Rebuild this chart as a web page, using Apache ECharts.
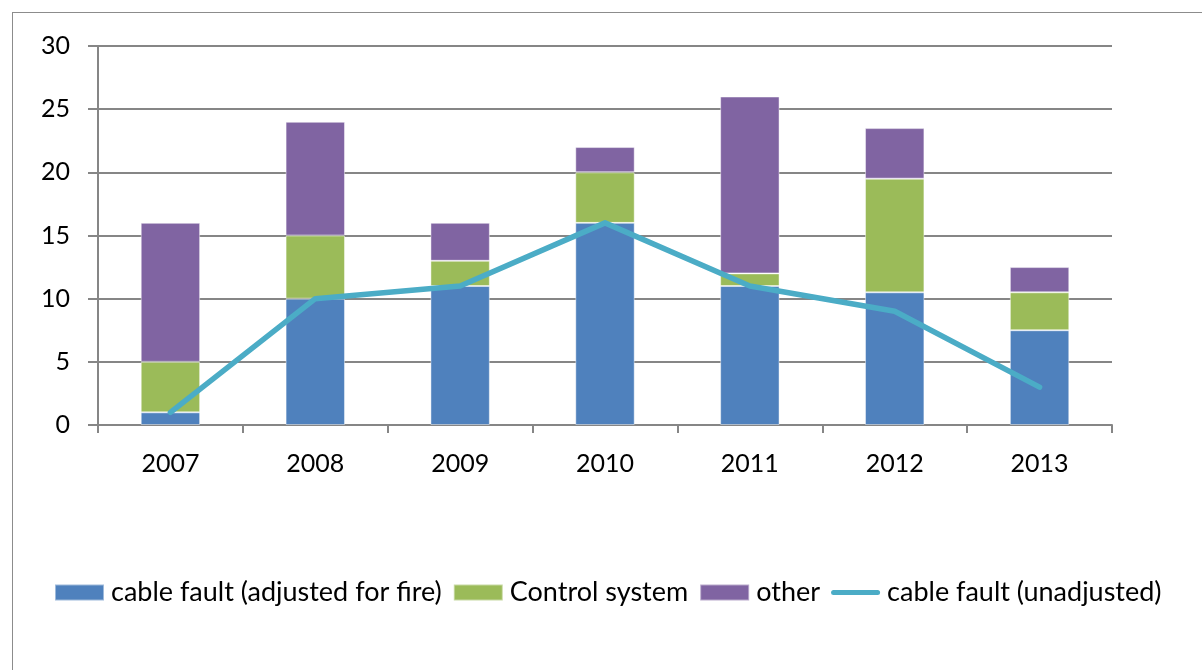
<!DOCTYPE html>
<html>
<head>
<meta charset="utf-8">
<script src="https://cdn.jsdelivr.net/npm/echarts@6/dist/echarts.min.js"></script>
<style>
  html, body { margin: 0; padding: 0; background: #fff; overflow: hidden; }
  #frame { position: absolute; left: 12px; top: 12px; width: 1400px; height: 900px;
           border: 1px solid #8c8c8c; box-sizing: border-box; }
  #chart { position: absolute; left: 0; top: 0; width: 1202px; height: 670px; }
</style>
</head>
<body>
<div id="frame"></div>
<div id="chart"></div>
<script>
// Fault counts per year
const years = ['2007', '2008', '2009', '2010', '2011', '2012', '2013'];
const cableAdjusted = [1, 10, 11, 16, 11, 10.5, 7.5];
const controlSystem = [4, 5, 2, 4, 1, 9, 3];
const otherFaults = [11, 9, 3, 2, 14, 4, 2];
const cableUnadjusted = [1, 10, 11, 16, 11, 9, 3];
const yTicks = { min: 0, max: 30, interval: 5 };

const FONT = 'Lato';
const LINE_COLOR = '#4BACC6';
// Legend glyph for the line series: a rounded stroke centred in a 49x16 box
const LINE_ICON = 'path://M0,0 M49,16 M2.5,5.5 L46.5,5.5 A2.5,2.5 0 0 1 46.5,10.5 L2.5,10.5 A2.5,2.5 0 0 1 2.5,5.5 Z';
const chart = echarts.init(document.getElementById('chart'), null, { renderer: 'canvas' });

const barBase = {
  type: 'bar',
  stack: 'total',
  barWidth: '41%',
  itemStyle: { borderColor: 'rgba(255,255,255,0.45)', borderWidth: 1 }
};

chart.setOption({
  animation: false,
  backgroundColor: 'transparent',
  grid: { left: 98, right: 90, top: 46, bottom: 245, containLabel: false },
  legend: {
    left: 54,
    top: 579,
    padding: 0,
    itemWidth: 49,
    itemHeight: 16,
    itemGap: 11,
    textStyle: { fontFamily: FONT, fontSize: 27, color: '#000', padding: [0, 0, 0, 2] },
    data: [
      { name: 'cable fault (adjusted for fire)', icon: 'rect' },
      { name: 'Control system', icon: 'rect' },
      { name: 'other', icon: 'rect' },
      { name: 'cable fault (unadjusted)', icon: LINE_ICON }
    ]
  },
  xAxis: {
    type: 'category',
    data: years,
    axisLine: { lineStyle: { color: '#868686', width: 2 } },
    axisTick: { show: true, length: 8, lineStyle: { color: '#868686', width: 2 } },
    axisLabel: { fontFamily: FONT, fontSize: 25, color: '#000', margin: 26 }
  },
  yAxis: {
    type: 'value',
    min: yTicks.min,
    max: yTicks.max,
    interval: yTicks.interval,
    axisLine: { show: true, lineStyle: { color: '#868686', width: 2 } },
    axisTick: { show: true, length: 10, lineStyle: { color: '#868686', width: 2 } },
    axisLabel: { fontFamily: FONT, fontSize: 25, color: '#000', margin: 28 },
    splitLine: { lineStyle: { color: '#868686', width: 2 } }
  },
  series: [
    Object.assign({}, barBase, {
      name: 'cable fault (adjusted for fire)',
      data: cableAdjusted,
      itemStyle: Object.assign({}, barBase.itemStyle, { color: '#4F81BD' })
    }),
    Object.assign({}, barBase, {
      name: 'Control system',
      data: controlSystem,
      itemStyle: Object.assign({}, barBase.itemStyle, { color: '#9BBB59' })
    }),
    Object.assign({}, barBase, {
      name: 'other',
      data: otherFaults,
      itemStyle: Object.assign({}, barBase.itemStyle, { color: '#8064A2' })
    }),
    {
      name: 'cable fault (unadjusted)',
      type: 'line',
      data: cableUnadjusted,
      symbol: 'none',
      color: LINE_COLOR,
      lineStyle: { color: LINE_COLOR, width: 5.5, cap: 'round', join: 'round' },
      z: 5
    }
  ]
});
</script>
</body>
</html>
